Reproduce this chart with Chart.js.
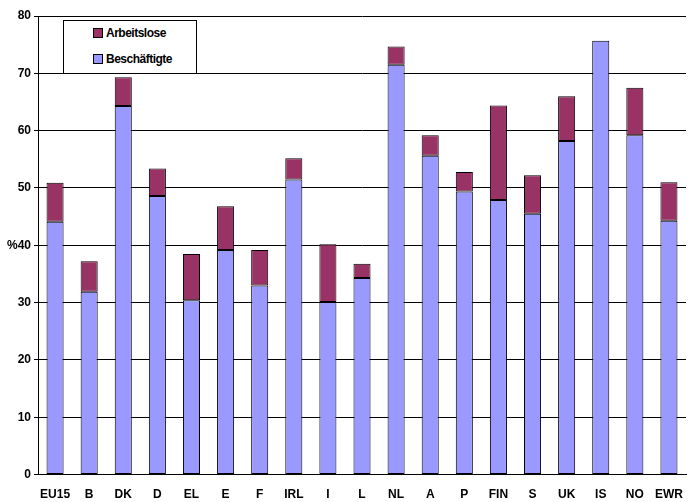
<!DOCTYPE html>
<html>
<head>
<meta charset="utf-8">
<script src="https://cdn.jsdelivr.net/npm/chart.js@4/dist/chart.umd.min.js"></script>
<style>
	html, body { margin: 0; padding: 0; background: #fff; }
	#wrap { position: relative; width: 690px; height: 502px; }
	#legende {
		position: absolute; left: 63px; top: 20px; width: 132px; height: 52px;
		border: 1px solid #000; background: #fff;
		font: bold 12px "Liberation Sans", Arial, sans-serif; letter-spacing: -0.5px;
	}
	#legende div { position: absolute; left: 29px; }
	#legende span { display: inline-block; width: 8px; height: 8px; border: 1px solid #000; margin-right: 3px; vertical-align: -1px; }
</style>
</head>
<body>
<div id="wrap">
	<canvas id="chartQuote" width="690" height="502"></canvas>
	<div id="legende">
		<div style="top:5px"><span style="background:#993366"></span>Arbeitslose</div>
		<div style="top:31px"><span style="background:#9999ff"></span>Beschäftigte</div>
	</div>
</div>
<script>
// Länder
const laender = ['EU15', 'B', 'DK', 'D', 'EL', 'E', 'F', 'IRL', 'I', 'L',
                 'NL', 'A', 'P', 'FIN', 'S', 'UK', 'IS', 'NO', 'EWR'];
// Beschäftigungsquote (%)
const beschaeftigte = [44.1, 31.9, 64.3, 48.6, 30.4, 39.2, 33.0, 51.5, 30.1, 34.3,
                       71.5, 55.6, 49.4, 47.9, 45.5, 58.2, 75.7, 59.2, 44.3];
// Arbeitslosenquote (%)
const arbeitslose = [6.8, 5.3, 5.0, 4.8, 8.1, 7.6, 6.2, 3.7, 10.1, 2.5,
                     3.2, 3.6, 3.4, 16.5, 6.7, 7.8, 0.0, 8.3, 6.7];
// Beschriftung der y-Achse
const yTicks = ['0', '10', '20', '30', '%40', '50', '60', '70', '80'];

const schrift = { family: '"Liberation Sans", Arial, sans-serif', size: 12, weight: 'bold' };

const ctx = document.getElementById('chartQuote').getContext('2d');
new Chart(ctx, {
	type: 'bar',
	data: {
		labels: laender,
		datasets: [{
			label: 'Beschäftigte',
			data: beschaeftigte,
			backgroundColor: '#9999ff',
			borderColor: '#000',
			borderWidth: 1,
			borderSkipped: false
		}, {
			label: 'Arbeitslose',
			data: arbeitslose,
			backgroundColor: '#993366',
			borderColor: '#000',
			borderWidth: 1,
			borderSkipped: false
		}]
	},
	options: {
		responsive: false,
		animation: false,
		layout: { padding: { top: 16, right: 4, left: 4, bottom: -5 } },
		datasets: { bar: { barPercentage: 0.5, categoryPercentage: 1 } },
		plugins: {
			legend: { display: false },
			tooltip: { enabled: false }
		},
		scales: {
			x: {
				stacked: true,
				grid: { display: false },
				border: { color: '#000' },
				ticks: { color: '#000', font: schrift, padding: 5, maxRotation: 0, autoSkip: false }
			},
			y: {
				stacked: true,
				min: 0,
				max: 80,
				grid: { color: '#000', tickLength: 4 },
				border: { color: '#000' },
				ticks: {
					stepSize: 10,
					color: '#000',
					font: schrift,
					padding: 3,
					callback: function (value, index) {
						return yTicks[index];
					}
				}
			}
		}
	}
});
</script>
</body>
</html>
